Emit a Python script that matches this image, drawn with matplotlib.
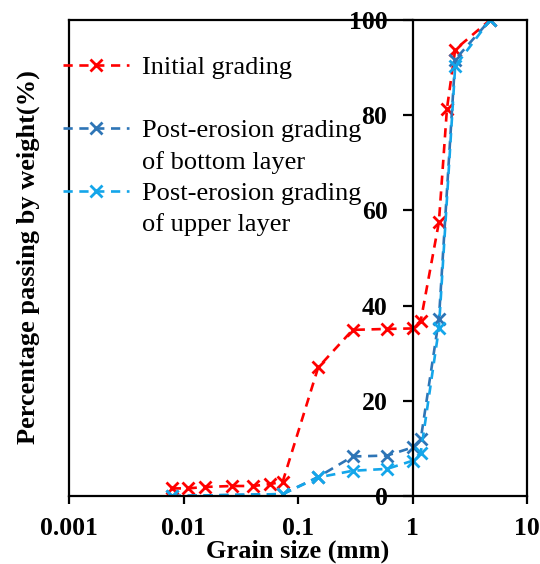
import matplotlib
matplotlib.use("Agg")
import matplotlib.pyplot as plt
from matplotlib.lines import Line2D

plt.rcParams['font.family'] = ['Liberation Serif', 'DejaVu Serif']

# grain size (mm) and percentage passing
size_init = [0.0079, 0.011, 0.0154, 0.0264, 0.0405, 0.057, 0.0735, 0.15, 0.3, 0.6, 1.0, 1.18, 1.7, 2.0, 2.36, 4.75]
pass_init = [1.6, 1.6, 1.9, 2.1, 2.1, 2.5, 3.0, 27.0, 34.9, 35.1, 35.2, 36.8, 57.5, 81.4, 93.8, 100]

size_post = [0.0079, 0.0735, 0.15, 0.3, 0.6, 1.0, 1.18, 1.7, 2.36, 4.75]
pass_bottom = [0.0, 0.4, 4.0, 8.3, 8.5, 10.2, 11.9, 37.1, 91.7, 100]
pass_upper = [0.0, 0.4, 3.9, 5.3, 5.7, 7.4, 9.1, 35.2, 90.3, 100]

xticks = [0.001, 0.01, 0.1, 1, 10]
xticklabels = ['0.001', '0.01', '0.1', '1', '10']
yticks = [0, 20, 40, 60, 80, 100]

red = '#FF0000'
dblue = '#2E75B6'
lblue = '#14A6EA'

fig = plt.figure(figsize=(5.4, 5.64), dpi=100)
ax = fig.add_axes([69/540, 68/564, 458/540, 476/564])

style = dict(ls=(0, (3.5, 2.5)), lw=1.9, marker='x', ms=8, mew=2)
l1, = ax.plot(size_init, pass_init, color=red, **style)
l2, = ax.plot(size_post, pass_bottom, color=dblue, **style)
l3, = ax.plot(size_post, pass_upper, color=lblue, **style)

ax.set_xscale('log')
ax.set_xlim(0.001, 10)
ax.set_ylim(0, 100)
ax.set_xticks(xticks)
ax.set_xticklabels(xticklabels)
ax.minorticks_off()
ax.set_yticks(yticks)

# y axis crosses at 1 mm
ax.spines['left'].set_position(('data', 1))
for s in ax.spines.values():
    s.set_linewidth(1.6)
ax.plot([0, 0], [0, 1], transform=ax.transAxes, color='black', lw=1.6,
        clip_on=False, solid_capstyle='projecting')

ax.tick_params(axis='x', direction='out', length=6, width=1.6, pad=9, labelsize=18.5)
ax.tick_params(axis='y', direction='out', length=7, width=1.6, pad=11, labelsize=18.5)
for lab in ax.get_xticklabels() + ax.get_yticklabels():
    lab.set_fontweight('bold')

ax.set_xlabel('Grain size (mm)', fontsize=19, fontweight='bold', labelpad=0)
fig.text(28/540, 1 - 257/564, 'Percentage passing by weight(%)', rotation=90,
         fontsize=19, fontweight='bold', ha='center', va='center')

blank = Line2D([], [], ls='none')
handles = [l1, blank, l2, blank, l3, blank]
labels = ['Initial grading', ' ', 'Post-erosion grading', 'of bottom layer',
          'Post-erosion grading', 'of upper layer']
fig.legend(handles, labels, loc='upper left', bbox_to_anchor=(63/540, 1 - 56/564),
           frameon=False, fontsize=19, handlelength=2.5, handletextpad=0.5,
           labelspacing=0.3, borderpad=0, borderaxespad=0)

fig.savefig('out.png', dpi=100)
